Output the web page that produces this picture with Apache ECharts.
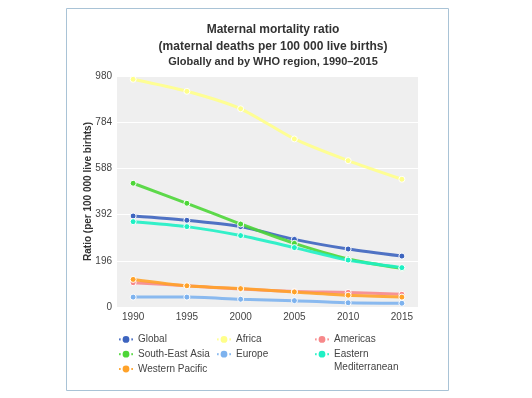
<!DOCTYPE html>
<html>
<head>
<meta charset="utf-8">
<script src="https://cdn.jsdelivr.net/npm/echarts@6/dist/echarts.min.js"></script>
<style>
  html, body { margin: 0; padding: 0; background: #fff; }
  #chart { width: 532px; height: 398px; }
</style>
</head>
<body>
<div id="chart"></div>
<script>
var years = [1990, 1995, 2000, 2005, 2010, 2015];
var yTicks = [0, 196, 392, 588, 784, 980];

var globalMMR = [386, 368, 341, 287, 246, 216];
var africa = [966, 915, 841, 713, 621, 542];
var americas = [103, 90, 76, 66, 62, 54];
var seAsia = [525, 440, 352, 270, 204, 164];
var europe = [42, 42, 33, 27, 18, 16];
var eastMed = [362, 341, 303, 252, 199, 167];
var westPac = [117, 90, 78, 64, 50, 42];

var names = ['Global', 'Africa', 'Americas', 'South-East Asia', 'Europe', 'Eastern Mediterranean', 'Western Pacific'];
var values = [globalMMR, africa, americas, seAsia, europe, eastMed, westPac];
var colors = ['#3d64bf', '#ffff8a', '#f7888a', '#4dd637', '#7db2ee', '#1ef0c4', '#ffa229'];

var myChart = echarts.init(document.getElementById('chart'));

function pairs(arr) {
  return years.map(function (y, i) { return [y, arr[i]]; });
}

var series = names.map(function (n, i) {
  return {
    name: n,
    type: 'line',
    smooth: 0.25,
    data: pairs(values[i]),
    symbol: 'circle',
    symbolSize: 6,
    color: colors[i],
    lineStyle: { width: 3, opacity: 0.9 },
    itemStyle: { color: colors[i], borderColor: '#fff', borderWidth: 1 }
  };
});

var legendText = { fontFamily: 'Liberation Sans', fontSize: 10, color: '#444' };
function legendCol(left, data) {
  return {
    orient: 'vertical',
    left: left,
    top: 334,
    padding: 0,
    itemGap: 4,
    itemWidth: 14,
    itemHeight: 11,
    textStyle: legendText,
    data: data,
    formatter: function (name) {
      return name === 'Eastern Mediterranean' ? 'Eastern' : name;
    }
  };
}

var option = {
  animation: false,
  title: [
    {
      text: 'Maternal mortality ratio\n(maternal deaths per 100 000 live births)',
      left: 268,
      textAlign: 'center',
      top: 16,
      textStyle: { fontFamily: 'Liberation Sans', fontSize: 12, fontWeight: 'bold', color: '#333', lineHeight: 17 }
    },
    {
      text: 'Globally and by WHO region, 1990\u20132015',
      left: 268,
      textAlign: 'center',
      top: 51,
      textStyle: { fontFamily: 'Liberation Sans', fontSize: 11, fontWeight: 'bold', color: '#333' }
    }
  ],
  legend: [
    legendCol(118, ['Global', 'South-East Asia', 'Western Pacific']),
    legendCol(216, ['Africa', 'Europe']),
    legendCol(314, ['Americas', 'Eastern Mediterranean'])
  ],
  graphic: [
    {
      type: 'rect',
      shape: { x: 66.5, y: 8.5, width: 382, height: 382 },
      style: { fill: 'none', stroke: '#a9c3d6', lineWidth: 1 },
      silent: true
    },
    {
      type: 'text',
      left: 334,
      top: 362,
      style: { text: 'Mediterranean', font: '10px "Liberation Sans"', fill: '#444' }
    }
  ],
  grid: {
    left: 117,
    right: 114,
    top: 76,
    bottom: 91,
    show: true,
    backgroundColor: '#efefef',
    borderWidth: 0
  },
  xAxis: {
    type: 'value',
    min: 1988.5,
    max: 2016.5,
    axisLine: { show: false },
    axisTick: { show: false },
    splitLine: { show: false },
    axisLabel: {
      customValues: years,
      formatter: function (v) { return String(v); },
      fontFamily: 'Liberation Sans',
      fontSize: 10,
      color: '#444',
      margin: 5
    }
  },
  yAxis: {
    type: 'value',
    min: 0,
    max: 980,
    interval: 196,
    name: 'Ratio (per 100 000 live birhts)',
    nameLocation: 'middle',
    nameGap: 24,
    nameMoveOverlap: false,
    nameTextStyle: { fontFamily: 'Liberation Sans', fontSize: 10, fontWeight: 'bold', color: '#333' },
    axisLine: { show: false },
    axisTick: { show: false },
    axisLabel: {
      customValues: yTicks,
      fontFamily: 'Liberation Sans',
      fontSize: 10,
      color: '#444',
      margin: 5
    },
    splitLine: { lineStyle: { color: '#ffffff', width: 1 } }
  },
  series: series
};

myChart.setOption(option);
window.addEventListener('resize', function () {
  myChart.resize();
});
</script>
</body>
</html>
